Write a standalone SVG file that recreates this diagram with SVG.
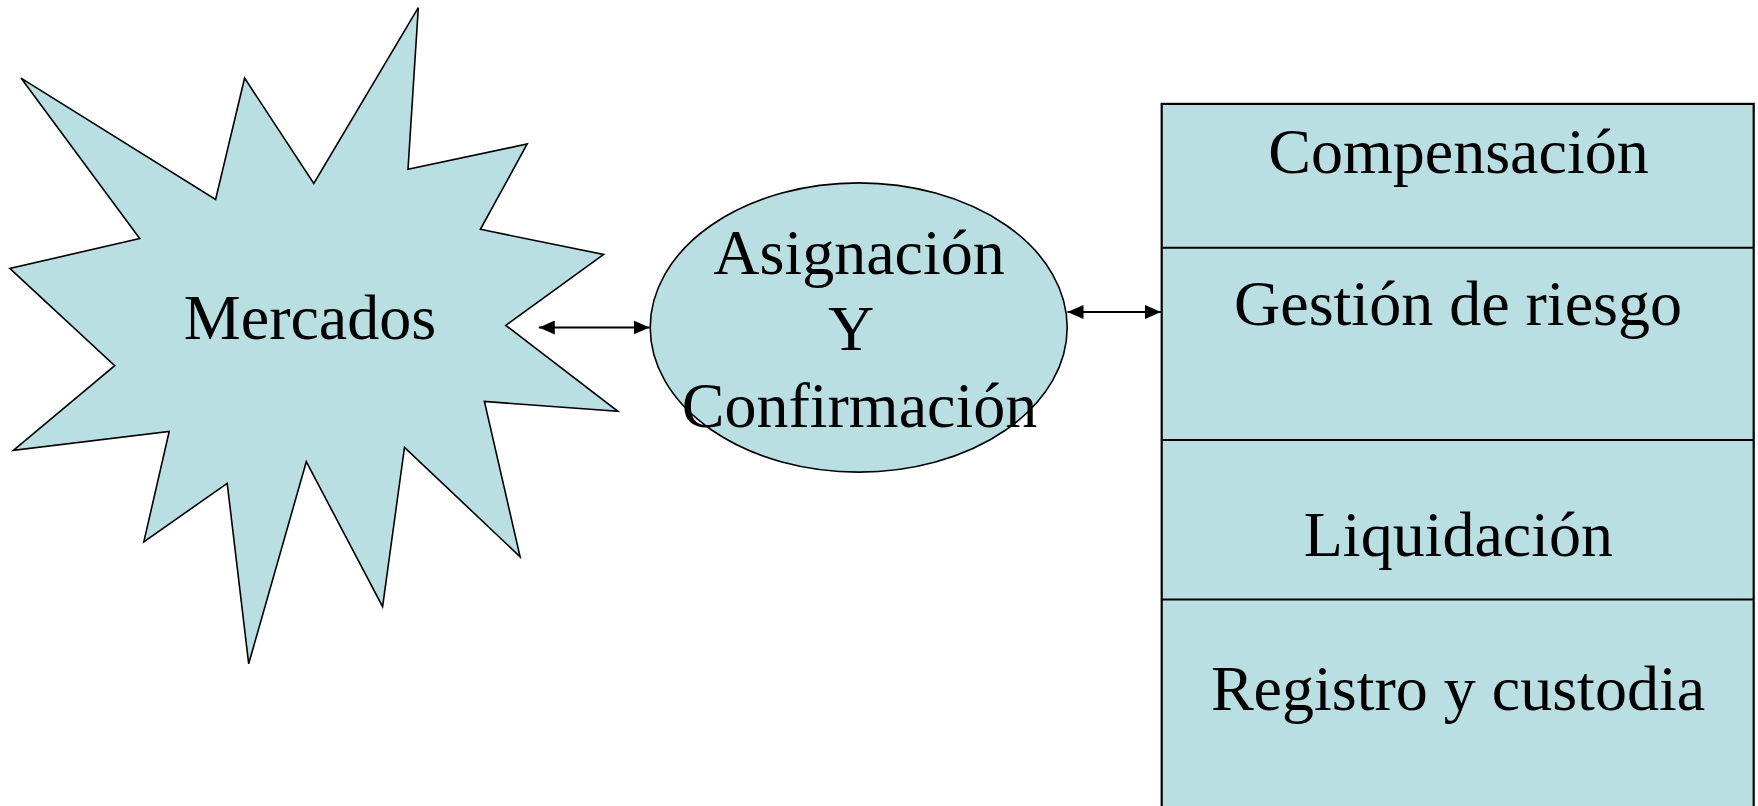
<svg xmlns="http://www.w3.org/2000/svg" width="1758" height="806" viewBox="0 0 1758 806">
<style>
.shape{fill:#B9DFE3;stroke:#000;stroke-width:1.6}
.box{fill:#B9DFE3;stroke:#000;stroke-width:2.2}
.div{stroke:#000;stroke-width:2}
.lbl{font-family:"Liberation Serif","Times New Roman",serif;font-size:64px;fill:#000;text-anchor:middle}
.conn{stroke:#000;stroke-width:1.8;fill:none}
</style>
<defs>
<marker id="ah" markerUnits="userSpaceOnUse" markerWidth="16" markerHeight="14" refX="16" refY="7" orient="auto-start-reverse">
<path d="M0,0 L16,7 L0,14 Z" fill="#000"/>
</marker>
</defs>
<rect width="1758" height="806" fill="#fff"/>
<g id="mercados">
<polygon class="shape" points="21,78.1 215.6,199.5 244.6,78.1 313.8,183.5 418.3,7.7 408,169.2 527.2,144 480.4,229.3 603.6,254.5 505.8,325.4 617.9,411.3 484.4,401.5 520.1,556.8 404.5,447.3 382.6,606.7 306.3,461.7 248.7,663.8 227.2,483.3 143.8,541.9 169.2,431.4 13.4,450.4 114.7,365.6 9.8,268.4 139.7,238.6"/>
<text class="lbl" x="310" y="339">Mercados</text>
</g>
<g id="asignacion">
<ellipse class="shape" cx="858.7" cy="327.5" rx="208.5" ry="144.6"/>
<text class="lbl" x="859" y="274">Asignación</text>
<text class="lbl" x="851" y="350">Y</text>
<text class="lbl" x="859.5" y="427">Confirmación</text>
</g>
<g id="procesos">
<rect class="box" x="1161.7" y="103.9" width="592" height="710"/>
<line class="div" x1="1161.7" y1="247.8" x2="1753.7" y2="247.8"/>
<line class="div" x1="1161.7" y1="440.1" x2="1753.7" y2="440.1"/>
<line class="div" x1="1161.7" y1="599.5" x2="1753.7" y2="599.5"/>
<text class="lbl" x="1458.5" y="173.3">Compensación</text>
<text class="lbl" x="1458" y="325">Gestión de riesgo</text>
<text class="lbl" x="1458.4" y="556.3">Liquidación</text>
<text class="lbl" x="1458" y="709.5">Registro y custodia</text>
</g>
<g id="connectors">
<line class="conn" x1="538.8" y1="327.5" x2="649.6" y2="327.5" marker-start="url(#ah)" marker-end="url(#ah)"/>
<line class="conn" x1="1067.5" y1="312" x2="1161" y2="312" marker-start="url(#ah)" marker-end="url(#ah)"/>
</g>
</svg>
